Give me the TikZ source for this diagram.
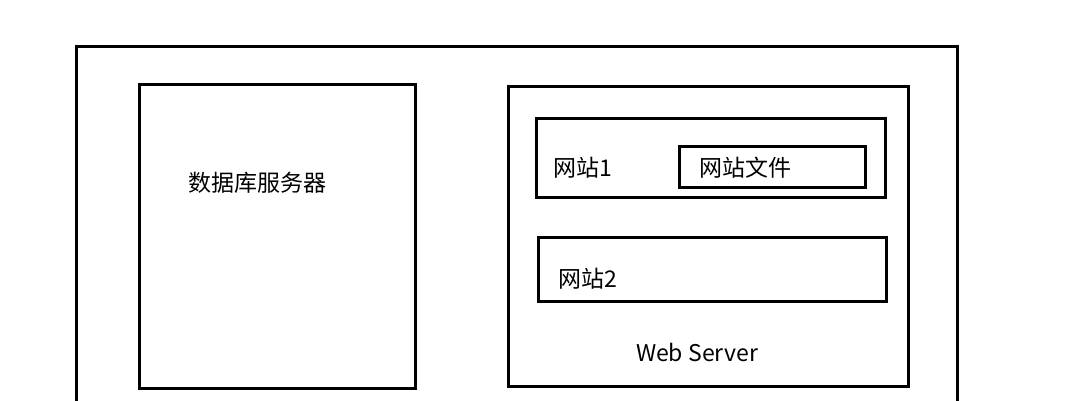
\documentclass[tikz,border=0pt]{standalone}
\usepackage{fontspec}
\setmainfont{Noto Sans CJK SC}
\begin{document}
\begin{tikzpicture}[x=1pt,y=-1pt,
  box/.style={draw=black,line width=3pt},
  lbl/.style={font=\fontsize{23}{26}\selectfont,inner sep=0pt}]
\useasboundingbox (0,0) rectangle (1067,400);
\draw[box] (76,420) -- (76,46) -- (957,46) -- (957,420);
\draw[box] (139,84) rectangle (415,388);
\draw[box] (508,86) rectangle (908,386);
\draw[box] (536,118) rectangle (885,197);
\draw[box] (679,146) rectangle (865,187);
\draw[box] (538,237) rectangle (886,301);
\node[lbl] (db) at (257,183) {数据库服务器};
\node[lbl] (s1) at (583,168) {网站1};
\node[lbl] (f) at (745,168) {网站文件};
\node[lbl] (s2) at (588,279) {网站2};
\node[lbl] (ws) at (697,352) {Web Server};
\end{tikzpicture}
\end{document}
